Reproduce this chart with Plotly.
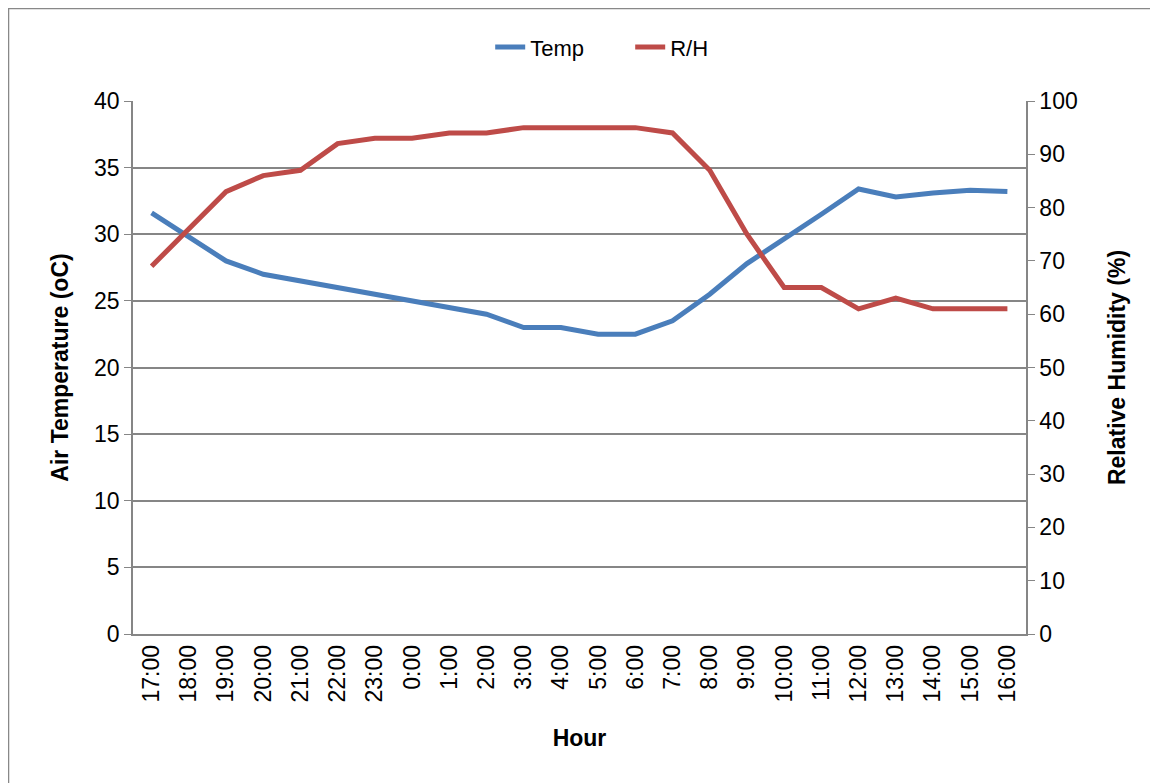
import plotly.graph_objects as go

hours = ["17:00", "18:00", "19:00", "20:00", "21:00", "22:00", "23:00", "0:00",
         "1:00", "2:00", "3:00", "4:00", "5:00", "6:00", "7:00", "8:00", "9:00",
         "10:00", "11:00", "12:00", "13:00", "14:00", "15:00", "16:00"]
temp = [31.6, 29.8, 28.0, 27.0, 26.5, 26.0, 25.5, 25.0, 24.5, 24.0, 23.0, 23.0,
        22.5, 22.5, 23.5, 25.5, 27.8, 29.6, 31.5, 33.4, 32.8, 33.1, 33.3, 33.2]
rh = [69, 76, 83, 86, 87, 92, 93, 93, 94, 94, 95, 95, 95, 95, 94, 87, 75,
      65, 65, 61, 63, 61, 61, 61]

FONT = "Liberation Sans, Arial, sans-serif"
GRID = "#868686"
FS = 23

fig = go.Figure()
fig.add_trace(go.Scatter(x=hours, y=temp, name="Temp", mode="lines",
                         line=dict(color="#4A7EBB", width=5)))
fig.add_trace(go.Scatter(x=hours, y=rh, name="R/H", mode="lines",
                         line=dict(color="#BE4B48", width=5), yaxis="y2"))

# outer chart border (right and bottom edges run off the page)
fig.add_shape(type="rect", xref="paper", yref="paper",
              x0=-0.1394, x1=1.16, y0=-0.31, y1=1.1735,
              line=dict(color="#888888", width=1.5), layer="below")

fig.update_layout(
    width=1158, height=783,
    paper_bgcolor="white", plot_bgcolor="white",
    font=dict(family=FONT, size=FS, color="black"),
    margin=dict(l=125, r=140, t=93, b=157, autoexpand=False),
    showlegend=True,
    legend=dict(orientation="h", x=0.40, xanchor="left", y=1.101, yanchor="middle",
                font=dict(size=22), traceorder="normal", entrywidth=95),
    xaxis=dict(
        type="category", range=[-0.5, 23.5], tickangle=-90, showgrid=False,
        showline=True, linecolor=GRID, linewidth=1.5, ticks="", automargin=False,
        title=dict(text="<b>Hour</b>", font=dict(size=FS), standoff=28),
        tickfont=dict(size=FS),
    ),
    yaxis=dict(
        range=[0, 40], dtick=5, showgrid=True, gridcolor=GRID, gridwidth=1.5,
        showline=True, linecolor=GRID, linewidth=1.5, ticks="outside",
        tickcolor=GRID, ticklen=7, zeroline=False, automargin=False,
        tickfont=dict(size=FS),
        title=dict(text="<b>Air Temperature (oC)</b>", font=dict(size=FS), standoff=19),
    ),
    yaxis2=dict(
        range=[0, 100], dtick=10, overlaying="y", side="right", showgrid=False,
        showline=True, linecolor=GRID, linewidth=1.5, ticks="outside",
        tickcolor=GRID, ticklen=7, zeroline=False, automargin=False,
        tickfont=dict(size=FS),
        title=dict(text="<b>Relative Humidity (%)</b>", font=dict(size=FS), standoff=32),
    ),
)

fig.write_html("out.html")
